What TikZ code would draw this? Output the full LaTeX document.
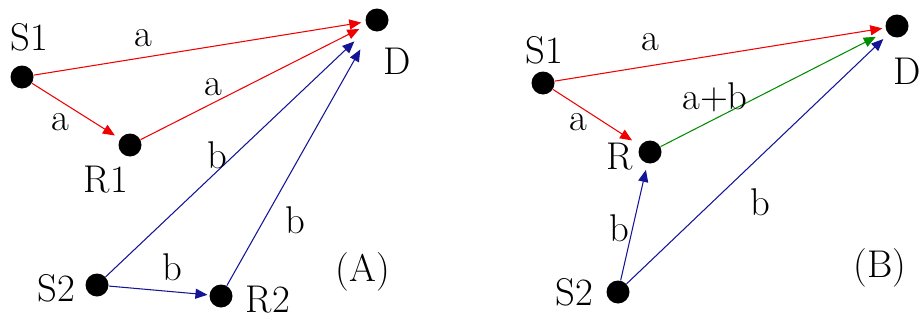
\documentclass[tikz,border=0pt]{standalone}
\usetikzlibrary{arrows.meta}
\definecolor{linkred}{RGB}{240,0,0}
\definecolor{linkblue}{RGB}{20,20,150}
\definecolor{linkgreen}{RGB}{0,140,0}
\begin{document}
\begin{tikzpicture}[
    dot/.style={circle, fill=black, inner sep=0pt, minimum size=0.46cm},
    lbl/.style={inner sep=0pt, font=\fontsize{22}{24}\selectfont},
    flow/.style={-{Triangle[length=0.24cm, width=0.2cm]}, line width=0.6pt}
]
  \useasboundingbox (0,0) rectangle (18.38,6.4);

  % Panel A
  \node[dot] (s1a) at (0.44,4.86) {};
  \node[dot] (da)  at (7.54,6.00) {};
  \node[dot] (r1)  at (2.60,3.50) {};
  \node[dot] (s2a) at (1.94,0.70) {};
  \node[dot] (r2)  at (4.42,0.48) {};

  \node[lbl] (s1alab) at (0.58,5.66) {S1};
  \node[lbl] (dalab)  at (7.94,5.18) {D};
  \node[lbl] (r1lab)  at (2.12,2.80) {R1};
  \node[lbl] (s2alab) at (1.12,0.64) {S2};
  \node[lbl] (r2lab)  at (5.36,0.40) {R2};
  \node[lbl] (alab)   at (7.26,0.96) {(A)};

  \draw[flow, linkred, shorten >=2.3pt] (s1a) -- (da);
  \draw[flow, linkred, shorten >=3.4pt] (s1a) -- (r1);
  \draw[flow, linkred, shorten >=4.5pt] (r1) -- (da);
  \draw[flow, linkblue, shorten >=11pt] (s2a) -- (da);
  \draw[flow, linkblue, shorten >=1pt] (s2a) -- (r2);
  \draw[flow, linkblue, shorten >=12.5pt] (r2) -- (da);

  \node[lbl] (a1) at (2.86,5.64) {a};
  \node[lbl] (a2) at (4.26,4.66) {a};
  \node[lbl] (a3) at (1.20,3.96) {a};
  \node[lbl] (b1) at (4.34,3.30) {b};
  \node[lbl] (b2) at (5.90,2.00) {b};
  \node[lbl] (b3) at (3.44,1.06) {b};

  % Panel B
  \node[dot] (s1b) at (10.86,4.74) {};
  \node[dot] (db)  at (17.94,5.88) {};
  \node[dot] (rb)  at (13.00,3.36) {};
  \node[dot] (s2b) at (12.36,0.56) {};

  \node[lbl] (s1blab) at (10.88,5.40) {S1};
  \node[lbl] (dblab)  at (18.14,4.98) {D};
  \node[lbl] (rblab)  at (12.40,3.26) {R};
  \node[lbl] (s2blab) at (11.48,0.56) {S2};
  \node[lbl] (blab)   at (17.60,1.04) {(B)};

  \draw[flow, linkred, shorten >=1.7pt] (s1b) -- (db);
  \draw[flow, linkred, shorten >=5.4pt] (s1b) -- (rb);
  \draw[flow, linkgreen, shorten >=6.8pt] (rb) -- (db);
  \draw[flow, linkblue, shorten >=3.7pt] (s2b) -- (rb);
  \draw[flow, linkblue, shorten >=4pt] (s2b) -- (db);

  \node[lbl] (a4) at (13.00,5.56) {a};
  \node[lbl] (a5) at (11.56,3.96) {a};
  \node[lbl] (ab) at (14.30,4.46) {a+b};
  \node[lbl] (b4) at (12.38,1.84) {b};
  \node[lbl] (b5) at (15.20,2.36) {b};
\end{tikzpicture}
\end{document}
